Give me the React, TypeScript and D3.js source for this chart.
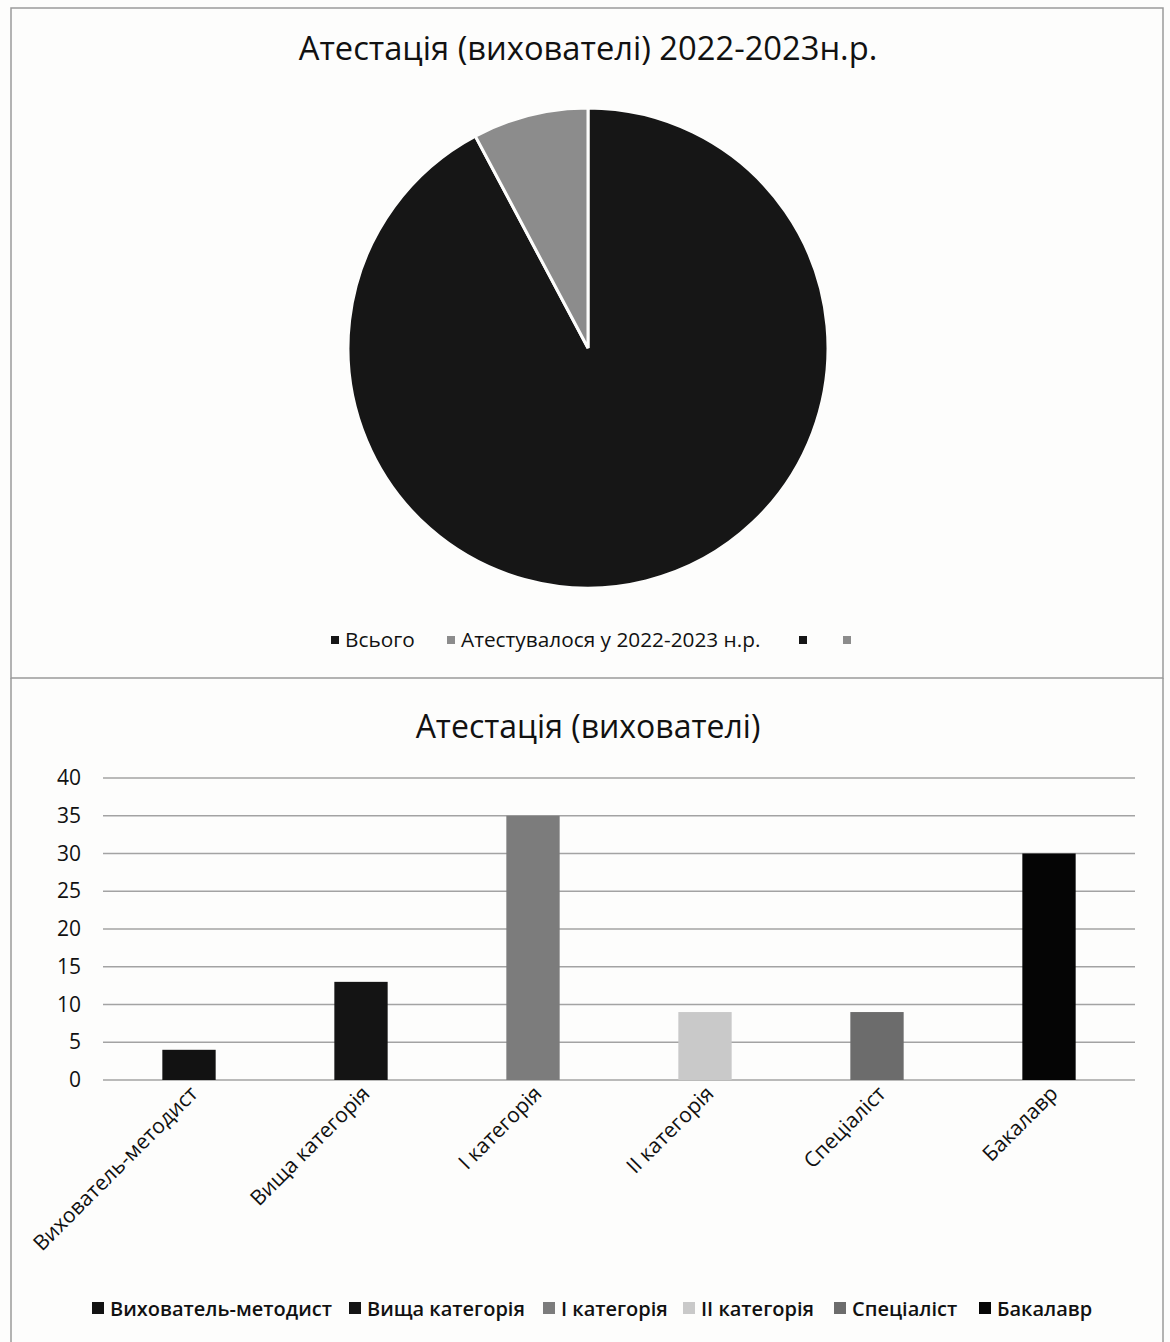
import React from "react";
import * as d3 from "d3";

const pieLabels = ["Всього", "Атестувалося у 2022-2023 н.р.", "", ""];
const pieValues = [83, 7, 0, 0];
const pieColors = ["#161616", "#8c8c8c", "#161616", "#8c8c8c"];

const barCategories = [
  "Вихователь-методист",
  "Вища категорія",
  "І категорія",
  "ІІ категорія",
  "Спеціаліст",
  "Бакалавр",
];
const barValues = [4, 13, 35, 9, 9, 30];
const barColors = ["#121212", "#141414", "#7c7c7c", "#c9c9c9", "#6c6c6c", "#050505"];
const yTicks = [0, 5, 10, 15, 20, 25, 30, 35, 40];

const FONT = "'Open Sans', 'Noto Sans', sans-serif";

export default function App() {
  const W = 1170;
  const H = 1342;

  // Pie
  const cx = 588;
  const cy = 348;
  const r = 240;
  const pieGen = d3.pie<number>().sort(null).value((d) => d);
  const arcs = pieGen(pieValues);
  const arcGen = d3.arc<d3.PieArcDatum<number>>().innerRadius(0).outerRadius(r);

  // Bars
  const x = d3.scaleBand<string>().domain(barCategories).range([103, 1135]).paddingInner(0.69).paddingOuter(0.345);
  const y = d3.scaleLinear().domain([0, 40]).range([1080, 778]);

  const pieLegendX = [331, 447, 799, 843];
  const barLegendX = [92, 349, 543, 683, 834, 979];

  return (
    <svg width={W} height={H} style={{ position: "absolute", left: 0, top: 0, background: "#fdfdfc" }}>
      <rect x={0} y={0} width={W} height={H} fill="#fdfdfc" />
      {/* frames */}
      <rect x={11} y={8} width={1152} height={670} fill="none" stroke="#9a9a9a" strokeWidth={1.5} />
      <line x1={11} x2={11} y1={678} y2={H} stroke="#9a9a9a" strokeWidth={1.5} />
      <line x1={1163} x2={1163} y1={678} y2={H} stroke="#9a9a9a" strokeWidth={1.5} />

      {/* Pie title */}
      <text x={588} y={60} textAnchor="middle" fontFamily={FONT} fontSize={32.7} fontWeight={500} fill="#111">
        Атестація (вихователі) 2022-2023н.р.
      </text>
      <g transform={`translate(${cx},${cy})`}>
        {arcs.map((a, i) => (
          <path key={i} d={arcGen(a) || ""} fill={pieColors[i]} stroke="#fdfdfc" strokeWidth={a.value > 0 ? 3 : 0} />
        ))}
      </g>
      {/* pie legend */}
      {pieLabels.map((l, i) => (
        <g key={i}>
          <rect x={pieLegendX[i]} y={636} width={8} height={8} fill={pieColors[i]} />
          <text x={pieLegendX[i] + 14} y={647} fontFamily={FONT} fontSize={20.8} fontWeight={500} fill="#111">
            {l}
          </text>
        </g>
      ))}

      {/* Bar title */}
      <text x={588} y={738} textAnchor="middle" fontFamily={FONT} fontSize={32} fontWeight={500} fill="#111">
        Атестація (вихователі)
      </text>
      {/* grid */}
      {yTicks.map((t) => (
        <g key={t}>
          <line x1={103} x2={1135} y1={y(t)} y2={y(t)} stroke="#a3a3a3" strokeWidth={1.3} />
          <text x={81} y={y(t) + 7} textAnchor="end" fontFamily={FONT} fontSize={21} fontWeight={500} fill="#111">
            {t}
          </text>
        </g>
      ))}
      {/* bars */}
      {barCategories.map((c, i) => (
        <rect key={c} x={x(c)} y={y(barValues[i])} width={x.bandwidth()} height={y(0) - y(barValues[i])} fill={barColors[i]} />
      ))}
      {/* x labels */}
      {barCategories.map((c) => {
        const px = (x(c) || 0) + x.bandwidth() / 2 + 10;
        const py = 1095;
        return (
          <text key={c} transform={`translate(${px},${py}) rotate(-45)`} textAnchor="end" fontFamily={FONT} fontSize={21} fontWeight={500} fill="#111">
            {c}
          </text>
        );
      })}
      {/* bar legend */}
      {barCategories.map((c, i) => (
        <g key={c}>
          <rect x={barLegendX[i]} y={1302} width={12} height={12} fill={barColors[i]} />
          <text x={barLegendX[i] + 18} y={1316} fontFamily={FONT} fontSize={20} fontWeight={600} fill="#111">
            {c}
          </text>
        </g>
      ))}
    </svg>
  );
}
